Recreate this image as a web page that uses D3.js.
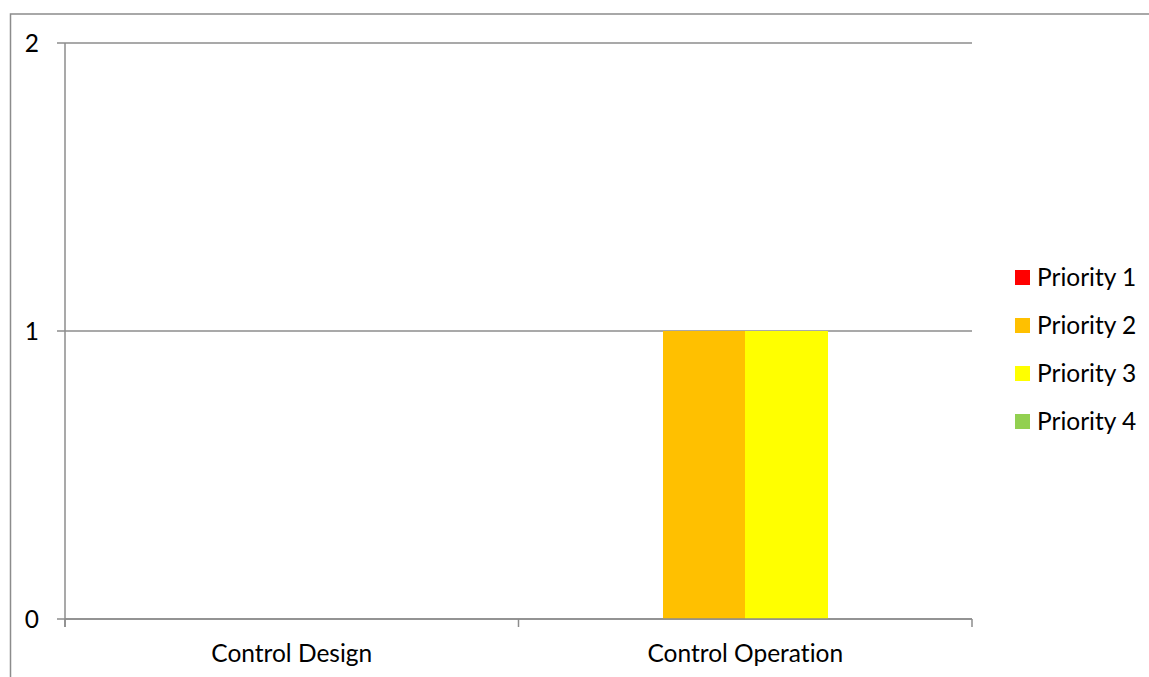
<!DOCTYPE html>
<html>
<head>
<meta charset="utf-8">
<script src="https://cdn.jsdelivr.net/npm/d3@7"></script>
<style>
  body { margin: 0; background: #fff; }
  svg text { font-family: Lato, "Open Sans", sans-serif; fill: #000; font-variant-ligatures: none; }
</style>
</head>
<body>
<div id="chart"></div>
<script>
var categories = ["Control Design", "Control Operation"];
var series = ["Priority 1", "Priority 2", "Priority 3", "Priority 4"];
var colors = ["#ff0000", "#ffc000", "#ffff00", "#92d050"];
var values = [
    [0, 0],   // Priority 1
    [0, 1],   // Priority 2
    [0, 1],   // Priority 3
    [0, 0]    // Priority 4
];
var y_ticks = [0, 1, 2];

var width = 1149, height = 677;
var plot = {left: 65, right: 972, top: 43, bottom: 619};
var font_size = "24.5px";

var svg = d3.select("#chart")
    .append("svg")
    .attr("width", width)
    .attr("height", height);

// outer chart frame, runs off the right and bottom edges
svg.append("rect")
    .attr("x", 10.5).attr("y", 14)
    .attr("width", 1160).attr("height", 700)
    .attr("fill", "none")
    .attr("stroke", "#8c8c8c")
    .attr("stroke-width", 1.5);

let x = d3.scaleBand()
    .domain(categories)
    .range([plot.left, plot.right]);

let gap = 1.5;
let bar_w = x.bandwidth() / (series.length + gap);

let y = d3.scaleLinear()
    .domain([0, 2])
    .range([plot.bottom, plot.top]);

// gridlines
svg.selectAll(".grid")
    .data(y_ticks)
    .enter().append("line")
    .attr("x1", plot.left - 8)
    .attr("x2", plot.right)
    .attr("y1", d => y(d))
    .attr("y2", d => y(d))
    .attr("stroke", "#8c8c8c")
    .attr("stroke-width", 1.5);

svg.selectAll(".ylab")
    .data(y_ticks)
    .enter().append("text")
    .attr("x", 39)
    .attr("y", d => y(d))
    .attr("dy", "0.35em")
    .attr("text-anchor", "end")
    .style("font-size", font_size)
    .text(d => d);

// bars
for (let s in series) {
    for (let c in categories) {
        let v = values[s][c];
        if (v <= 0) continue;
        let cx = x(categories[c]) + x.bandwidth() / 2;
        svg.append("rect")
            .attr("x", cx - bar_w * series.length / 2 + s * bar_w)
            .attr("y", y(v))
            .attr("width", bar_w)
            .attr("height", y(0) - y(v))
            .attr("fill", colors[s])
            .attr("shape-rendering", "crispEdges");
    }
}

// y axis line
svg.append("line")
    .attr("x1", plot.left).attr("x2", plot.left)
    .attr("y1", plot.top).attr("y2", plot.bottom + 8)
    .attr("stroke", "#8c8c8c")
    .attr("stroke-width", 1.5);

// x axis line and ticks
svg.append("line")
    .attr("x1", plot.left).attr("x2", plot.right)
    .attr("y1", plot.bottom).attr("y2", plot.bottom)
    .attr("stroke", "#8c8c8c")
    .attr("stroke-width", 1.5);

let x_ticks = categories.map(d => x(d)).concat([plot.right]);
svg.selectAll(".xtick")
    .data(x_ticks)
    .enter().append("line")
    .attr("x1", d => d).attr("x2", d => d)
    .attr("y1", plot.bottom).attr("y2", plot.bottom + 8)
    .attr("stroke", "#8c8c8c")
    .attr("stroke-width", 1.5);

svg.selectAll(".xlab")
    .data(categories)
    .enter().append("text")
    .attr("x", d => x(d) + x.bandwidth() / 2)
    .attr("y", 662)
    .attr("text-anchor", "middle")
    .style("font-size", font_size)
    .text(d => d);

// legend
let legend = svg.append("g");
series.forEach(function(name, i) {
    let ly = 277 + i * 48;
    legend.append("rect")
        .attr("x", 1015).attr("y", ly - 7)
        .attr("width", 15).attr("height", 15)
        .attr("fill", colors[i]);
    legend.append("text")
        .attr("x", 1037).attr("y", ly)
        .attr("dy", "0.35em")
        .style("font-size", font_size)
        .text(name);
});
</script>
</body>
</html>
